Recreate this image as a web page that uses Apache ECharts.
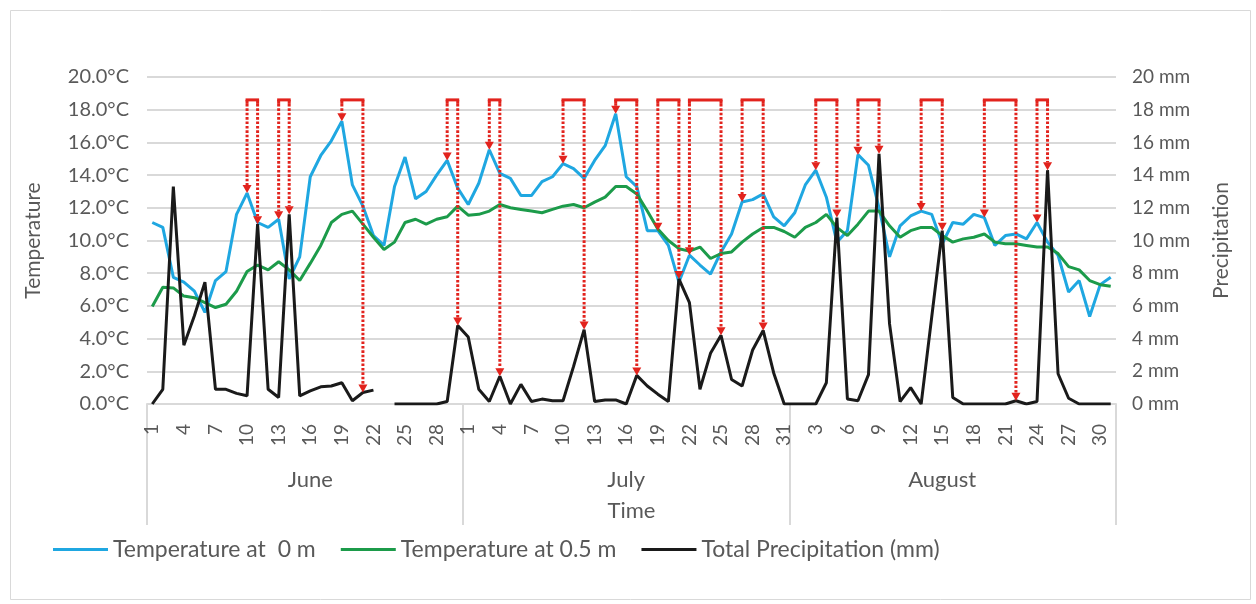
<!DOCTYPE html>
<html>
<head>
<meta charset="utf-8">
<script src="https://cdn.jsdelivr.net/npm/echarts@6/dist/echarts.min.js"></script>
<style>
  html, body { margin: 0; padding: 0; background: #ffffff; }
  #chart { width: 1256px; height: 604px; }
</style>
</head>
<body>
<div id="chart"></div>
<script>
// ---- Daily observations, 1 June to 31 August ----
const months = ['June', 'July', 'August'];
const monthLengths = [30, 31, 31];

const dayLabels = [
  '1','2','3','4','5','6','7','8','9','10','11','12','13','14','15','16','17','18','19','20','21','22','23','24','25','26','27','28','29','30',
  '1','2','3','4','5','6','7','8','9','10','11','12','13','14','15','16','17','18','19','20','21','22','23','24','25','26','27','28','29','30','31',
  '1','2','3','4','5','6','7','8','9','10','11','12','13','14','15','16','17','18','19','20','21','22','23','24','25','26','27','28','29','30','31'
];

// Temperature at 0 m (°C)
const tempSurface = [
  11.1, 10.8, 7.75, 7.45, 6.9, 5.6, 7.55, 8.1, 11.6, 12.9, 11.1, 10.8, 11.3, 7.65, 9.0,
  13.9, 15.2, 16.1, 17.3, 13.4, 12.1, 10.3, 9.7, 13.3, 15.1, 12.55, 13.0, 14.0, 14.9, 13.2,
  12.2, 13.5, 15.55, 14.1, 13.8, 12.75, 12.75, 13.6, 13.9, 14.7, 14.4, 13.8, 14.9, 15.8, 17.75,
  13.9, 13.3, 10.6, 10.6, 9.7, 7.45, 9.1, 8.5, 7.95, 9.3, 10.4, 12.35, 12.5, 12.85, 11.45, 10.9,
  11.7, 13.4, 14.3, 12.65, 9.9, 10.6, 15.25, 14.6, 12.0, 9.0, 10.9, 11.5, 11.8, 11.6, 9.8,
  11.1, 11.0, 11.6, 11.4, 9.7, 10.3, 10.4, 10.1, 11.1, 9.9, 9.1, 6.85, 7.55, 5.35, 7.3, 7.75
];

// Temperature at 0.5 m (°C)
const tempDeep = [
  5.96, 7.14, 7.1, 6.6, 6.5, 6.2, 5.9, 6.1, 6.9, 8.1, 8.5, 8.2, 8.7, 8.2, 7.55,
  8.6, 9.7, 11.1, 11.6, 11.8, 11.0, 10.2, 9.45, 9.9, 11.1, 11.3, 11.0, 11.3, 11.45, 12.1,
  11.55, 11.6, 11.8, 12.2, 12.0, 11.9, 11.8, 11.7, 11.9, 12.1, 12.2, 12.0, 12.35, 12.65, 13.3,
  13.3, 12.85, 11.8, 10.7, 10.0, 9.5, 9.35, 9.6, 8.9, 9.2, 9.3, 9.9, 10.4, 10.8, 10.8, 10.55,
  10.2, 10.8, 11.1, 11.6, 10.8, 10.3, 11.0, 11.8, 11.8, 10.9, 10.2, 10.6, 10.8, 10.8, 10.3,
  9.9, 10.1, 10.2, 10.4, 9.9, 9.8, 9.8, 9.7, 9.6, 9.6, 9.2, 8.4, 8.2, 7.55, 7.3, 7.2
];

// Total precipitation (mm); no reading on 23 June
const precip = [
  0, 0.9, 13.3, 3.6, 5.4, 7.45, 0.9, 0.9, 0.65, 0.5, 11.0, 0.9, 0.4, 11.6, 0.5,
  0.8, 1.05, 1.1, 1.3, 0.2, 0.7, 0.85, null, 0, 0, 0, 0, 0, 0.15, 4.8,
  4.1, 0.9, 0.15, 1.7, 0, 1.2, 0.15, 0.3, 0.2, 0.2, 2.3, 4.55, 0.15, 0.25, 0.25,
  0, 1.75, 1.1, 0.6, 0.15, 7.65, 6.2, 0.9, 3.1, 4.2, 1.5, 1.1, 3.3, 4.5, 1.9, 0,
  0, 0, 0, 1.3, 11.4, 0.3, 0.2, 1.8, 15.3, 4.9, 0.15, 1.0, 0, 5.3, 10.6,
  0.4, 0, 0, 0, 0, 0, 0.2, 0, 0.15, 14.3, 1.85, 0.35, 0, 0, 0, 0
];

// Rain events: [day of the surface-temperature peak, day of the rainfall it is linked to]
const rainEvents = [
  [9, 10], [12, 13], [18, 20], [28, 29],
  [32, 33], [39, 41], [44, 46], [48, 50], [51, 54], [56, 58],
  [63, 65], [67, 69], [73, 75], [79, 82], [84, 85]
];

// ---- Layout / style ----
const FONT = 'Lato';
const TEXT = '#595959';
const GRID = '#d9d9d9';
const BLUE = '#1fa7e1';
const GREEN = '#1c9b4a';
const BLACK = '#1a1a1a';
const RED = '#e2231d';
const bracketLevel = 18.6;            // height of the event brackets (°C scale)
const monthLabelIndex = [15, 45, 75]; // day slot under which each month name sits

// first day index of every month, for the group dividers
const monthStarts = [];
monthLengths.reduce((acc, n) => { monthStarts.push(acc); return acc + n; }, 0);

// group axis labels: month name under its slot, blank elsewhere
const monthAxisData = dayLabels.map(() => '');
months.forEach((m, k) => { monthAxisData[monthLabelIndex[k]] = m; });

// Brackets with dotted arrows: left leg to the surface temperature,
// right leg to the precipitation (both y axes span 0–20).
function renderEvent(params, api) {
  const a = api.value(0);
  const b = api.value(1);
  const topA = api.coord([a, bracketLevel]);
  const topB = api.coord([b, bracketLevel]);
  const tipA = api.coord([a, tempSurface[a]]);
  const tipB = api.coord([b, precip[b]]);
  const head = 8, half = 4.5;
  const dotted = { stroke: RED, lineWidth: 3, lineDash: [2.6, 1.8] };
  const arrow = (top, tip) => [
    { type: 'line', shape: { x1: tip[0], y1: top[1], x2: tip[0], y2: top[1] + 4 },
      style: { stroke: RED, lineWidth: 3 } },
    { type: 'line', shape: { x1: tip[0], y1: top[1] + 4, x2: tip[0], y2: tip[1] - head },
      style: dotted },
    { type: 'polygon', shape: { points: [[tip[0] - half, tip[1] - head], [tip[0] + half, tip[1] - head], [tip[0], tip[1]]] },
      style: { fill: RED } }
  ];
  return {
    type: 'group',
    children: [
      { type: 'line', shape: { x1: topA[0] - 1.5, y1: topA[1], x2: topB[0] + 1.5, y2: topB[1] },
        style: { stroke: RED, lineWidth: 3 } },
      ...arrow(topA, tipA),
      ...arrow(topB, tipB)
    ]
  };
}

const chart = echarts.init(document.getElementById('chart'), null, { renderer: 'canvas' });

chart.setOption({
  animation: false,
  backgroundColor: '#ffffff',
  textStyle: { fontFamily: FONT },
  graphic: [{
    type: 'rect', left: 8, top: 8, z: -10,
    shape: { width: 1240, height: 589 },
    style: { fill: 'none', stroke: GRID, lineWidth: 1 }
  }],
  grid: { left: 147, right: 140, top: 77, bottom: 200 },
  legend: {
    left: 53, top: 538, padding: 0,
    icon: 'rect', itemWidth: 55, itemHeight: 3, itemGap: 25,
    textStyle: { fontFamily: FONT, fontSize: 23, color: TEXT },
    data: ['Temperature at  0 m', 'Temperature at 0.5 m', 'Total Precipitation (mm)']
  },
  xAxis: [
    {
      type: 'category', position: 'bottom', data: dayLabels, boundaryGap: true,
      axisLine: { lineStyle: { color: GRID, width: 2 } },
      axisTick: { show: false },
      axisLabel: { interval: 2, rotate: 90, margin: 20, fontFamily: FONT, fontSize: 19, color: TEXT },
      splitLine: { show: false }
    },
    {
      type: 'category', position: 'bottom', data: monthAxisData, boundaryGap: true,
      axisLine: { show: false },
      axisTick: {
        show: true, length: 121,
        interval: (idx) => monthStarts.indexOf(idx) >= 0,
        lineStyle: { color: GRID, width: 2 }
      },
      axisLabel: { interval: 0, margin: 65, fontFamily: FONT, fontSize: 22, color: TEXT },
      name: 'Time', nameLocation: 'middle', nameGap: 96,
      nameTextStyle: { fontFamily: FONT, fontSize: 22, color: TEXT },
      splitLine: { show: false }
    }
  ],
  yAxis: [
    {
      type: 'value', position: 'left', min: 0, max: 20, interval: 2,
      name: 'Temperature', nameLocation: 'middle', nameGap: 103,
      nameTextStyle: { fontFamily: FONT, fontSize: 21, color: TEXT },
      axisLine: { show: false }, axisTick: { show: false },
      axisLabel: { margin: 18, fontFamily: FONT, fontSize: 20, color: TEXT,
        formatter: (v) => v.toFixed(1) + '°C' },
      splitLine: { lineStyle: { color: GRID, width: 2 } }
    },
    {
      type: 'value', position: 'right', min: 0, max: 20, interval: 2,
      name: 'Precipitation', nameLocation: 'middle', nameGap: 95,
      nameTextStyle: { fontFamily: FONT, fontSize: 21, color: TEXT },
      axisLine: { show: false }, axisTick: { show: false },
      axisLabel: { margin: 16, fontFamily: FONT, fontSize: 19, color: TEXT,
        formatter: (v) => v + ' mm' },
      splitLine: { show: false }
    }
  ],
  series: [
    {
      name: 'Temperature at  0 m', type: 'line', xAxisIndex: 0, yAxisIndex: 0,
      data: tempSurface, symbol: 'none', color: BLUE,
      lineStyle: { width: 3, color: BLUE }, z: 2
    },
    {
      name: 'Temperature at 0.5 m', type: 'line', xAxisIndex: 0, yAxisIndex: 0,
      data: tempDeep, symbol: 'none', color: GREEN,
      lineStyle: { width: 3, color: GREEN }, z: 3
    },
    {
      name: 'Total Precipitation (mm)', type: 'line', xAxisIndex: 0, yAxisIndex: 1,
      data: precip, symbol: 'none', connectNulls: false, color: BLACK,
      lineStyle: { width: 3, color: BLACK }, z: 4
    },
    {
      name: 'events', type: 'custom', xAxisIndex: 0, yAxisIndex: 0,
      data: rainEvents, renderItem: renderEvent, z: 6, silent: true
    }
  ]
});
</script>
</body>
</html>
